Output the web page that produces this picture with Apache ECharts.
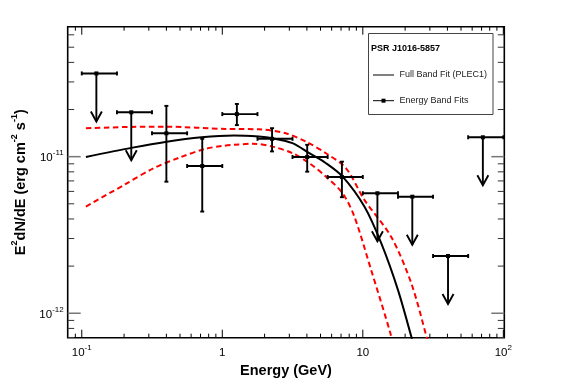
<!DOCTYPE html>
<html><head><meta charset="utf-8">
<script src="https://cdn.jsdelivr.net/npm/echarts@6/dist/echarts.min.js"></script>
<style>html,body{margin:0;padding:0;background:#fff}#c{width:567px;height:384px}</style>
</head><body><div id="c"></div>
<script>
// ---- axis ranges ----
const X_MIN = 0.0794, X_MAX = 101.6;
const Y_MIN = 6.98e-13, Y_MAX = 6.76e-11;

// ---- detected energy-band points ----
const detE   = [0.40, 0.72, 1.27, 2.26, 4.02, 7.1];
const detF   = [1.41e-11, 8.72e-12, 1.87e-11, 1.30e-11, 9.95e-12, 7.42e-12];
const detElo = [0.316, 0.562, 1.0, 1.78, 3.16, 5.62];
const detEhi = [0.562, 1.0, 1.78, 3.16, 5.62, 10.0];
const detFlo = [6.92e-12, 4.46e-12, 1.59e-11, 1.08e-11, 8.02e-12, 5.51e-12];
const detFhi = [2.11e-11, 1.30e-11, 2.17e-11, 1.52e-11, 1.19e-11, 9.29e-12];

// ---- upper limits ----
const ulE   = [0.127, 0.225, 12.7, 22.5, 40.4, 71.5];
const ulF   = [3.40e-11, 1.92e-11, 5.84e-12, 5.55e-12, 2.32e-12, 1.33e-11];
const ulElo = [0.1, 0.178, 10, 17.8, 31.6, 56.2];
const ulEhi = [0.178, 0.316, 17.8, 31.6, 56.2, 100];

// ---- full band fit (PLEC1) curve ----
const fitE = [0.107, 0.225, 0.402, 0.711, 1.21, 1.82, 2.28, 3.16, 4.16, 5.47, 7.19, 10.26, 13.52, 17.78, 22.13, 24.0];
const fitF = [0.995e-11, 1.138e-11, 1.247e-11, 1.33e-11, 1.365e-11, 1.343e-11, 1.31e-11, 1.219e-11, 1.052e-11, 0.908e-11, 0.745e-11, 0.480e-11, 0.280e-11, 0.141e-11, 0.071e-11, 0.054e-11];

// ---- 1-sigma band edges ----
const upE = [0.107, 0.225, 0.402, 1.057, 1.82, 2.83, 3.94, 5.47, 7.6, 10.26, 15.9, 22.1, 28.5, 31.0];
const upF = [1.517e-11, 1.549e-11, 1.553e-11, 1.503e-11, 1.496e-11, 1.41e-11, 1.247e-11, 1.052e-11, 0.843e-11, 0.530e-11, 0.308e-11, 0.156e-11, 0.0698e-11, 0.05e-11];
const lowE = [0.107, 0.2, 0.324, 0.5, 0.75, 1.0, 1.21, 1.64, 2.28, 3.16, 4.16, 5.47, 7.19, 8.71, 11.46, 15.7, 17.0];
const lowF = [0.48e-11, 0.66e-11, 0.843e-11, 0.99e-11, 1.12e-11, 1.17e-11, 1.19e-11, 1.21e-11, 1.159e-11, 1.052e-11, 0.908e-11, 0.745e-11, 0.583e-11, 0.414e-11, 0.189e-11, 0.0747e-11, 0.055e-11];

// ---- tick values ----
const xMajorTicks = [0.1, 1, 10, 100];
const yMajorTicks = [1e-12, 1e-11];
const mults = [2, 3, 4, 5, 6, 7, 8, 9];
const xMinorTicks = [0.09];
[0.1, 1, 10].forEach(d => mults.forEach(m => xMinorTicks.push(d * m)));
const yMinorTicks = [7e-13, 8e-13, 9e-13];
[1e-12, 1e-11].forEach(d => mults.forEach(m => { if (d * m < Y_MAX) yMinorTicks.push(d * m); }));

const FONT = "'Liberation Sans', Arial, Helvetica, sans-serif";

function supLabel(v) {
  const e = Math.log10(v), r = Math.round(e);
  if (Math.abs(e - r) > 1e-6) return '';
  if (r === 0) return '{a|1}';
  if (r === 1) return '{a|10}';
  return '{a|10}{b|' + r + '}';
}

const labelRich = {
  a: { fontSize: 11.5, fontFamily: FONT, color: '#000', lineHeight: 15, verticalAlign: 'bottom' },
  b: { fontSize: 8, fontFamily: FONT, color: '#000', lineHeight: 9, verticalAlign: 'top' }
};

const detData = detE.map((e, i) => [e, detF[i], detElo[i], detEhi[i], detFlo[i], detFhi[i]]);
const ulData = ulE.map((e, i) => [e, ulF[i], ulElo[i], ulEhi[i]]);
const xTickData = xMajorTicks.map(v => [v, 1e-11, 1]).concat(xMinorTicks.map(v => [v, 1e-11, 0]));
const yTickData = yMajorTicks.map(v => [1, v, 1]).concat(yMinorTicks.map(v => [1, v, 0]));

const BAR = { stroke: '#000', lineWidth: 1.9 };

function line(x1, y1, x2, y2, style) {
  return { type: 'line', shape: { x1, y1, x2, y2 }, style };
}

const chart = echarts.init(document.getElementById('c'), null, { renderer: 'canvas' });
chart.setOption({
  backgroundColor: '#fff',
  animation: false,
  grid: { left: 67.7, right: 62.7, top: 26.7, bottom: 46.3, show: true, borderColor: '#000', borderWidth: 1.6, backgroundColor: 'transparent' },
  xAxis: {
    type: 'log', logBase: 10, min: X_MIN, max: X_MAX,
    splitLine: { show: false }, axisTick: { show: false }, axisLine: { show: false },
    axisLabel: { formatter: supLabel, rich: labelRich, margin: 6, showMinLabel: true, showMaxLabel: true },
    name: 'Energy (GeV)', nameLocation: 'middle', nameGap: 22,
    nameTextStyle: { fontFamily: FONT, fontWeight: 'bold', fontSize: 14.5, color: '#000' }
  },
  yAxis: {
    type: 'log', logBase: 10, min: Y_MIN, max: Y_MAX,
    splitLine: { show: false }, axisTick: { show: false }, axisLine: { show: false },
    axisLabel: { formatter: supLabel, rich: labelRich, margin: 4 },
    name: '{a|E}{s|2}{a|dN/dE (erg cm}{s|-2}{a| s}{s|-1}{a|)}', nameLocation: 'middle', nameGap: 33,
    nameTextStyle: {
      rich: {
        a: { fontFamily: FONT, fontWeight: 'bold', fontSize: 14.5, color: '#000', lineHeight: 18, verticalAlign: 'bottom' },
        s: { fontFamily: FONT, fontWeight: 'bold', fontSize: 9, color: '#000', lineHeight: 10, verticalAlign: 'top' }
      }
    }
  },
  series: [
    { type: 'custom', name: 'xticks', data: xTickData, encode: { x: 0, y: 1 }, silent: true, z: 5,
      renderItem(params, api) {
        const cs = params.coordSys;
        const x = api.coord([api.value(0), 1e-11])[0];
        const len = api.value(2) ? 8 : 4;
        const st = { stroke: '#000', lineWidth: 1 };
        return { type: 'group', children: [
          line(x, cs.y + cs.height, x, cs.y + cs.height - len, st),
          line(x, cs.y, x, cs.y + len, st)
        ]};
      } },
    { type: 'custom', name: 'yticks', data: yTickData, encode: { x: 0, y: 1 }, silent: true, z: 5,
      renderItem(params, api) {
        const cs = params.coordSys;
        const y = api.coord([1, api.value(1)])[1];
        const major = api.value(2);
        const len = major ? 13 : 6.5;
        const st = { stroke: major ? '#777' : '#333', lineWidth: major ? 1.5 : 1 };
        return { type: 'group', children: [
          line(cs.x, y, cs.x + len, y, st),
          line(cs.x + cs.width, y, cs.x + cs.width - len, y, st)
        ]};
      } },
    { type: 'line', name: 'upper', data: upE.map((e, i) => [e, upF[i]]), showSymbol: false, smooth: 0.3,
      lineStyle: { color: '#ff0000', width: 2, type: [5.5, 3.5] }, clip: true, z: 2 },
    { type: 'line', name: 'lower', data: lowE.map((e, i) => [e, lowF[i]]), showSymbol: false, smooth: 0.3,
      lineStyle: { color: '#ff0000', width: 2, type: [5.5, 3.5] }, clip: true, z: 2 },
    { type: 'line', name: 'fit', data: fitE.map((e, i) => [e, fitF[i]]), showSymbol: false, smooth: 0.3,
      lineStyle: { color: '#000', width: 2 }, clip: true, z: 3 },
    { type: 'custom', name: 'bands', data: detData, encode: { x: 0, y: 1 }, z: 4,
      renderItem(params, api) {
        const c = api.coord([api.value(0), api.value(1)]);
        const l = api.coord([api.value(2), api.value(1)]);
        const r = api.coord([api.value(3), api.value(1)]);
        const lo = api.coord([api.value(0), api.value(4)]);
        const hi = api.coord([api.value(0), api.value(5)]);
        return { type: 'group', children: [
          line(l[0], c[1], r[0], c[1], BAR),
          line(l[0], c[1] - 2, l[0], c[1] + 2, BAR),
          line(r[0], c[1] - 2, r[0], c[1] + 2, BAR),
          line(c[0], hi[1], c[0], lo[1], BAR),
          line(c[0] - 2, hi[1], c[0] + 2, hi[1], BAR),
          line(c[0] - 2, lo[1], c[0] + 2, lo[1], BAR),
          { type: 'rect', shape: { x: c[0] - 2, y: c[1] - 2, width: 4, height: 4 }, style: { fill: '#000' } }
        ]};
      } },
    { type: 'custom', name: 'limits', data: ulData, encode: { x: 0, y: 1 }, z: 4,
      renderItem(params, api) {
        const c = api.coord([api.value(0), api.value(1)]);
        const l = api.coord([api.value(2), api.value(1)]);
        const r = api.coord([api.value(3), api.value(1)]);
        const tip = c[1] + 48;
        return { type: 'group', children: [
          line(l[0], c[1], r[0], c[1], BAR),
          line(l[0], c[1] - 2, l[0], c[1] + 2, BAR),
          line(r[0], c[1] - 2, r[0], c[1] + 2, BAR),
          line(c[0], c[1], c[0], tip, BAR),
          { type: 'polyline', shape: { points: [[c[0] - 5.5, tip - 10], [c[0], tip], [c[0] + 5.5, tip - 10]] }, style: { stroke: '#000', lineWidth: 1.9, fill: null } },
          { type: 'rect', shape: { x: c[0] - 2, y: c[1] - 2, width: 4, height: 4 }, style: { fill: '#000' } }
        ]};
      } }
  ],
  graphic: [
    { type: 'rect', shape: { x: 368.5, y: 33.5, width: 124.5, height: 81 }, style: { fill: '#fff', stroke: '#444', lineWidth: 1 }, z: 10 },
    { type: 'text', x: 371, y: 49, z: 11, style: { text: 'PSR J1016-5857', fontFamily: FONT, fontWeight: 'bold', fontSize: 9, fill: '#000', verticalAlign: 'middle' } },
    { type: 'line', z: 11, shape: { x1: 373, y1: 75, x2: 394, y2: 75 }, style: { stroke: '#000', lineWidth: 1 } },
    { type: 'text', x: 399.5, y: 75, z: 11, style: { text: 'Full Band Fit (PLEC1)', fontFamily: FONT, fontSize: 9, fill: '#222', verticalAlign: 'middle' } },
    { type: 'line', z: 11, shape: { x1: 373, y1: 100.7, x2: 394, y2: 100.7 }, style: { stroke: '#000', lineWidth: 1 } },
    { type: 'rect', z: 11, shape: { x: 381.5, y: 98.7, width: 4, height: 4 }, style: { fill: '#000' } },
    { type: 'text', x: 399.5, y: 100.7, z: 11, style: { text: 'Energy Band Fits', fontFamily: FONT, fontSize: 9, fill: '#222', verticalAlign: 'middle' } }
  ]
});
</script></body></html>
